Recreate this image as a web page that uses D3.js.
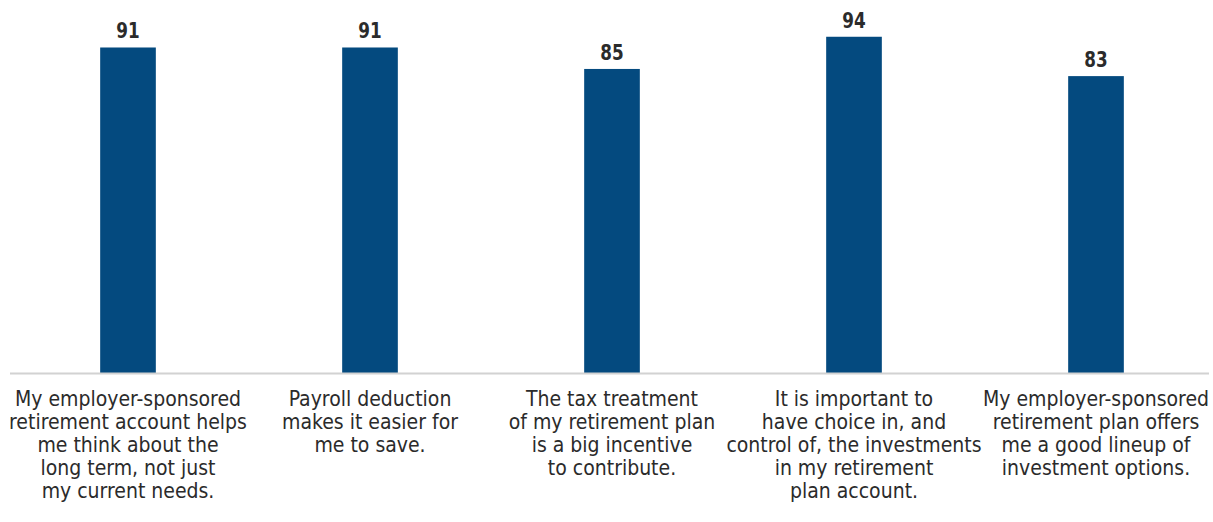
<!DOCTYPE html>
<html>
<head>
<meta charset="utf-8">
<script src="https://cdn.jsdelivr.net/npm/d3@7"></script>
<style>
  html, body { margin: 0; padding: 0; background: #fff; }
  svg { display: block; }
  text { font-family: "Liberation Sans Narrow", "DejaVu Sans Condensed", "Liberation Sans", sans-serif; }
</style>
</head>
<body>
<svg id="chart" width="1213" height="522"></svg>
<script>
const categories = [
  ["My employer-sponsored", "retirement account helps", "me think about the", "long term, not just", "my current needs."],
  ["Payroll deduction", "makes it easier for", "me to save."],
  ["The tax treatment", "of my retirement plan", "is a big incentive", "to contribute."],
  ["It is important to", "have choice in, and", "control of, the investments", "in my retirement", "plan account."],
  ["My employer-sponsored", "retirement plan offers", "me a good lineup of", "investment options."]
];
const values = [91, 91, 85, 94, 83];

const svg = d3.select("#chart");
const baseY = 373;

const x = d3.scaleBand()
  .domain(d3.range(categories.length))
  .range([7, 1217])
  .paddingInner(0.77)
  .paddingOuter(0.385);

const y = d3.scaleLinear().domain([0, 100]).range([baseY, 15.3]);

// bars
svg.append("g").selectAll("rect")
  .data(values)
  .join("rect")
  .attr("x", (d, i) => x(i))
  .attr("y", d => y(d))
  .attr("width", x.bandwidth())
  .attr("height", d => y(0) - y(d))
  .attr("fill", "#044a7f");

// baseline axis
svg.append("line")
  .attr("x1", 10).attr("x2", 1209)
  .attr("y1", baseY + 0.5).attr("y2", baseY + 0.5)
  .attr("stroke", "#d2d2d2").attr("stroke-width", 2);

// value labels
svg.append("g").selectAll("text")
  .data(values)
  .join("text")
  .attr("transform", (d, i) => `translate(${x(i) + x.bandwidth() / 2},${y(d) - 9}) scale(0.85,1)`)
  .attr("text-anchor", "middle")
  .attr("font-size", 22)
  .attr("font-weight", "bold")
  .attr("fill", "#2b2b2b")
  .text(d => d);

// category labels
const lab = svg.append("g").selectAll("text")
  .data(categories)
  .join("text")
  .attr("text-anchor", "middle")
  .attr("font-size", 21)
  .attr("fill", "#2b2b2b");
lab.each(function(lines, i) {
  const t = d3.select(this);
  lines.forEach((ln, j) => {
    t.append("tspan")
      .attr("x", x(i) + x.bandwidth() / 2)
      .attr("y", 406 + j * 23)
      .text(ln);
  });
});
</script>
</body>
</html>
